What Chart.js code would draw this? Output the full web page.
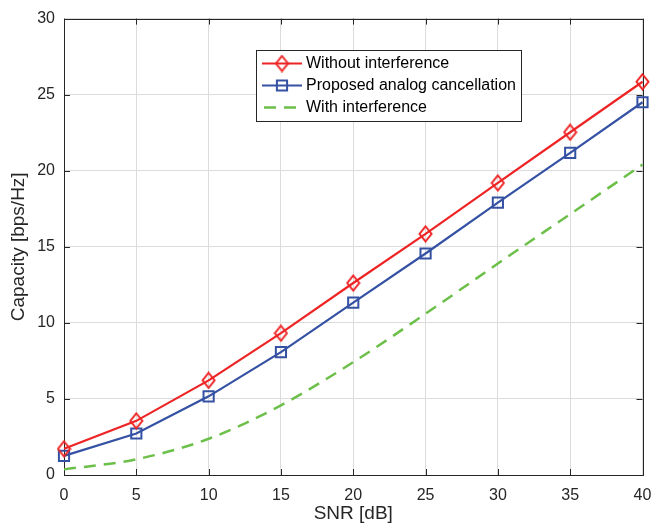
<!DOCTYPE html>
<html>
<head>
<meta charset="utf-8">
<script src="https://cdn.jsdelivr.net/npm/chart.js@4/dist/chart.umd.min.js"></script>
<style>
  html, body { margin: 0; padding: 0; background: #ffffff; }
  #wrap { width: 652px; height: 532px; }
</style>
</head>
<body>
<div id="wrap"><canvas id="c" width="652" height="532"></canvas></div>
<script>
const snr = [0, 5, 10, 15, 20, 25, 30, 35, 40];
const withoutInterference = [1.72, 3.56, 6.22, 9.32, 12.62, 15.85, 19.2, 22.53, 25.85];
const proposedCancellation = [1.26, 2.73, 5.17, 8.08, 11.33, 14.56, 17.9, 21.17, 24.5];
const withInterference = [0.37, 1.03, 2.38, 4.58, 7.42, 10.6, 13.9, 17.15, 20.4];
const seriesLabels = ['Without interference', 'Proposed analog cancellation', 'With interference'];
const xTitle = 'SNR [dB]';
const yTitle = 'Capacity [bps/Hz]';

const RED = '#ee2424';
const BLUE = '#3451a3';
const GREEN = '#6cc04a';
const AXIS = '#262626';
const FONT = "'Liberation Sans', Arial, Helvetica, sans-serif";

function pts(ys) { return snr.map((x, i) => ({ x: x, y: ys[i] })); }

// MATLAB-like diamond marker (slightly taller than wide), hollow
function makeDiamond(color) {
  const w = 15, h = 18;
  const c = document.createElement('canvas');
  c.width = w; c.height = h;
  const g = c.getContext('2d');
  g.strokeStyle = color;
  g.lineWidth = 2;
  g.lineJoin = 'miter';
  g.beginPath();
  g.moveTo(w / 2, 1.5);
  g.lineTo(w - 1.5, h / 2);
  g.lineTo(w / 2, h - 1.5);
  g.lineTo(1.5, h / 2);
  g.closePath();
  g.stroke();
  return c;
}
const diamond = makeDiamond(RED);

const boxPlugin = {
  id: 'matlabBox',
  beforeDatasetsDraw(chart) {
    const { ctx, chartArea: a, scales } = chart;
    ctx.save();
    ctx.strokeStyle = AXIS;
    ctx.lineWidth = 1;
    const tl = 6;
    ctx.beginPath();
    scales.x.ticks.forEach(t => {
      const px = Math.round(scales.x.getPixelForValue(t.value)) + 0.5;
      ctx.moveTo(px, a.bottom); ctx.lineTo(px, a.bottom - tl);
      ctx.moveTo(px, a.top); ctx.lineTo(px, a.top + tl);
    });
    scales.y.ticks.forEach(t => {
      const py = Math.round(scales.y.getPixelForValue(t.value)) + 0.5;
      ctx.moveTo(a.left, py); ctx.lineTo(a.left + tl, py);
      ctx.moveTo(a.right, py); ctx.lineTo(a.right - tl, py);
    });
    ctx.stroke();
    ctx.strokeRect(Math.round(a.left) + 0.5, Math.round(a.top) + 0.5,
                   Math.round(a.right - a.left), Math.round(a.bottom - a.top));
    ctx.restore();
  }
};

const legendPlugin = {
  id: 'boxLegend',
  afterDatasetsDraw(chart) {
    const ctx = chart.ctx;
    const x0 = 256.5, y0 = 50.5, w = 265, h = 71;
    ctx.save();
    ctx.fillStyle = '#ffffff';
    ctx.fillRect(x0, y0, w, h);
    ctx.strokeStyle = AXIS;
    ctx.lineWidth = 1;
    ctx.strokeRect(x0, y0, w, h);
    const rows = [63.5, 85.5, 107.5];
    chart.data.datasets.forEach((ds, i) => {
      const cy = rows[i];
      ctx.save();
      ctx.strokeStyle = ds.borderColor;
      ctx.lineWidth = ds.borderWidth;
      ctx.setLineDash(ds.borderDash || []);
      ctx.beginPath();
      if (ds.borderDash) {
        ctx.moveTo(264, cy); ctx.lineTo(302, cy);
      } else {
        ctx.moveTo(262, cy); ctx.lineTo(302, cy);
      }
      ctx.stroke();
      ctx.restore();
      if (ds.pointRadius > 0) {
        ctx.save();
        ctx.strokeStyle = ds.pointBorderColor;
        ctx.lineWidth = ds.pointBorderWidth;
        ctx.fillStyle = 'rgba(0,0,0,0)';
        ctx.setLineDash([]);
        Chart.helpers.drawPoint(ctx, {
          pointStyle: ds.pointStyle,
          radius: ds.pointRadius,
          rotation: 0,
          borderWidth: ds.pointBorderWidth
        }, 282, cy);
        ctx.restore();
      }
      ctx.fillStyle = '#000000';
      ctx.font = '16px ' + FONT;
      ctx.textBaseline = 'middle';
      ctx.textAlign = 'left';
      ctx.fillText(ds.label, 306, cy + 0.5);
    });
    ctx.restore();
  }
};

const chart = new Chart(document.getElementById('c'), {
  type: 'line',
  data: {
    datasets: [
      {
        label: seriesLabels[0],
        data: pts(withoutInterference),
        borderColor: RED, backgroundColor: 'rgba(0,0,0,0)',
        borderWidth: 2.2,
        pointStyle: diamond, pointRadius: 7.5,
        pointBorderColor: RED, pointBackgroundColor: 'rgba(0,0,0,0)',
        pointBorderWidth: 2, tension: 0, clip: false
      },
      {
        label: seriesLabels[1],
        data: pts(proposedCancellation),
        borderColor: BLUE, backgroundColor: 'rgba(0,0,0,0)',
        borderWidth: 2.2,
        pointStyle: 'rect', pointRadius: 7.2,
        pointBorderColor: BLUE, pointBackgroundColor: 'rgba(0,0,0,0)',
        pointBorderWidth: 2, tension: 0, clip: false
      },
      {
        label: seriesLabels[2],
        data: pts(withInterference),
        borderColor: GREEN, backgroundColor: 'rgba(0,0,0,0)',
        borderWidth: 2.5, borderDash: [12, 8],
        pointRadius: 0, cubicInterpolationMode: 'monotone', clip: false
      }
    ]
  },
  options: {
    responsive: false,
    animation: false,
    devicePixelRatio: 1,
    layout: { padding: { top: 17, right: 0, left: 0, bottom: 0 } },
    plugins: { legend: { display: false }, tooltip: { enabled: false } },
    scales: {
      x: {
        type: 'linear', min: 0, max: 40,
        ticks: { stepSize: 5, color: AXIS, font: { family: FONT, size: 16 }, padding: 11, maxRotation: 0 },
        grid: { color: '#dcdcdc', lineWidth: 1, drawTicks: false },
        border: { display: false },
        title: { display: true, text: xTitle, color: AXIS, font: { family: FONT, size: 19 }, padding: { top: 0, bottom: 7 } },
        afterFit(s) { s.height = 57; s.paddingRight = 9; }
      },
      y: {
        type: 'linear', min: 0, max: 30,
        ticks: { stepSize: 5, color: AXIS, font: { family: FONT, size: 16 }, padding: 9 },
        grid: { color: '#dcdcdc', lineWidth: 1, drawTicks: false },
        border: { display: false },
        title: { display: true, text: yTitle, color: AXIS, font: { family: FONT, size: 19 }, padding: { top: 7, bottom: 0 } },
        afterFit(s) { s.width = 64; }
      }
    }
  },
  plugins: [boxPlugin, legendPlugin]
});
</script>
</body>
</html>
